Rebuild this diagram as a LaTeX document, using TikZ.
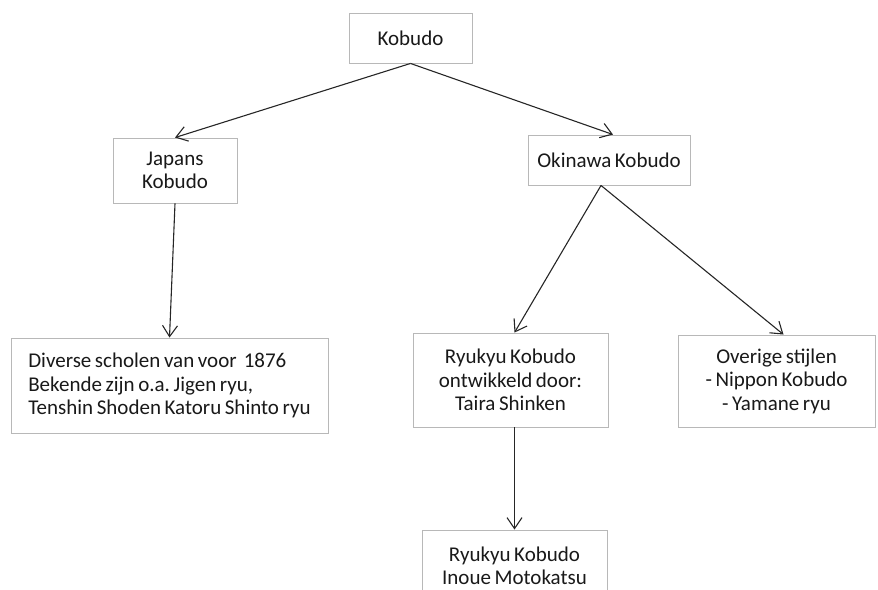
\documentclass[tikz,border=0pt]{standalone}
\usepackage{fontspec}
\setmainfont{Carlito}
\usetikzlibrary{arrows.meta}

\newcommand{\kobfont}{\fontsize{21}{23.5}\selectfont\spaceskip=0.17em plus 0.05em\relax}

\begin{document}
\frenchspacing
\begin{tikzpicture}[
    x=1pt, y=-1pt,
    kbox/.style={
        draw=black!28,
        line width=0.9pt,
        fill=white,
        text=black!90,
        font=\kobfont,
        align=center,
        inner sep=0pt
        },
    karrow/.style={
        -{Straight Barb[length=11pt,width=15pt]},
        draw=black!85,
        line width=1.1pt
        }
]

\useasboundingbox (0,0) rectangle (878,589);

% Boxes
\node[kbox, minimum width=123pt, minimum height=50pt] (kobudo) at (410.5,38) {Kobudo};
\node[kbox, minimum width=124pt, minimum height=65pt] (japans) at (175,170.5) {Japans\\Kobudo};
\node[kbox, minimum width=162pt, minimum height=50pt] (okinawa) at (609,160) {Okinawa Kobudo};
\node[kbox, align=left, minimum width=317pt, minimum height=95pt] (diverse) at (169.5,385.5)
    {Diverse scholen van voor \ 1876\\Bekende zijn o.a. Jigen ryu,\\Tenshin Shoden Katoru Shinto ryu};
\node[kbox, minimum width=195pt, minimum height=94pt] (taira) at (510.5,380)
    {Ryukyu Kobudo\\ontwikkeld door:\\Taira Shinken};
\node[kbox, minimum width=197pt, minimum height=92pt] (overige) at (776.5,381)
    {Overige stijlen\\- Nippon Kobudo\\- Yamane ryu};
\node[kbox, minimum width=185pt, minimum height=72pt] (inoue) at (514.5,566)
    {Ryukyu Kobudo\\Inoue Motokatsu};

% Arrows
\draw[karrow] (kobudo.south) -- (japans.north);
\draw[karrow] (kobudo.south) -- ([xshift=4pt]okinawa.north);
\draw[karrow] (japans.south) -- (diverse.north);
\draw[karrow] ([xshift=-8pt]okinawa.south) -- ([xshift=4pt]taira.north);
\draw[karrow] ([xshift=-8pt]okinawa.south) -- ([xshift=7pt]overige.north);
\draw[karrow] ([xshift=4pt]taira.south) -- (inoue.north);

\end{tikzpicture}
\end{document}
